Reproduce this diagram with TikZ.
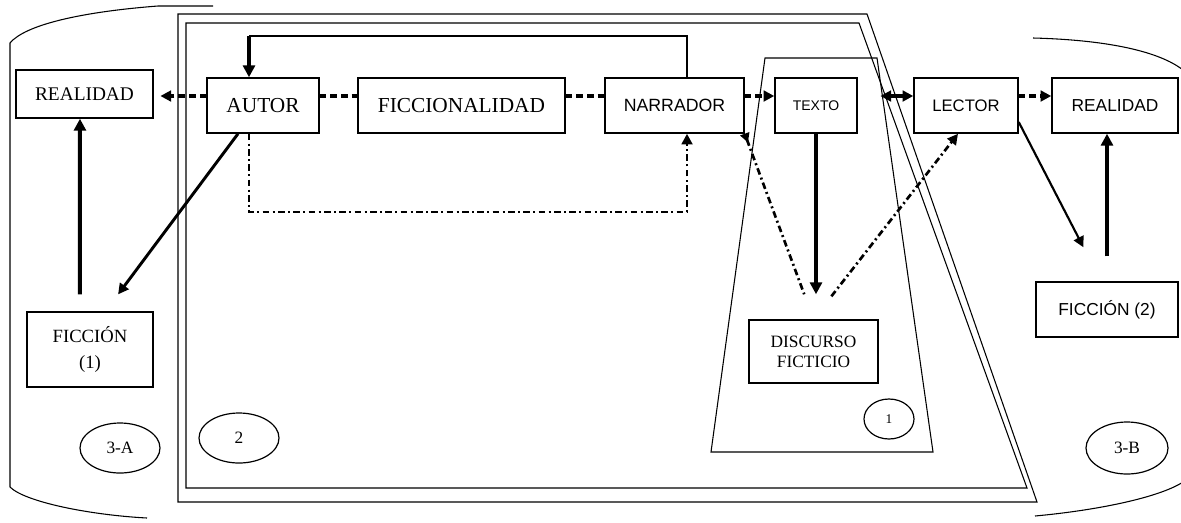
\documentclass[tikz,border=0pt]{standalone}
\usepackage{fontspec}
\setmainfont{Liberation Serif}
\newfontfamily\arialfont{Liberation Sans}
\usetikzlibrary{arrows.meta,shapes.geometric}

\begin{document}
\begin{tikzpicture}[x=0.75pt, y=-0.75pt,
    box/.style={draw, rectangle, line width=1.1pt, inner sep=0pt, align=center},
    oval/.style={draw, ellipse, line width=0.9pt, inner sep=0pt},
    frame/.style={line width=0.8pt},
    tip/.style={-{Triangle[length=8pt,width=8pt]}},
    dashlink/.style={line width=2.6pt, dash pattern=on 5pt off 3pt, tip},
    dotlink/.style={line width=2pt, dash pattern=on 5pt off 2.5pt on 1.5pt off 2.5pt},
    heavy/.style={line width=3pt, -{Triangle[length=9pt,width=9pt]}}]
    \useasboundingbox (0,0) rectangle (1181,522);

    \draw[frame] (213,6) -- (158,6) .. controls (80,12) and (25,25) .. (10,43) -- (10,487)
        .. controls (25,502) and (90,515) .. (147,518);
    \draw[frame] (1033,38) .. controls (1110,40) and (1160,52) .. (1183,70);
    \draw[frame] (1035,516) .. controls (1100,510) and (1160,497) .. (1183,482);
    \draw[frame] (178,14) -- (867,14) -- (1037,502) -- (178,502) -- cycle;
    \draw[frame] (186,23) -- (859,23) -- (1027,488) -- (186,488) -- cycle;
    \draw[frame] (765,58) -- (877,58) -- (933,452) -- (711,452) -- cycle;

    \node[box, font=\fontsize{14.5}{16}\selectfont, minimum width=102.75pt, minimum height=36pt] (realA) at (84.5,94) {REALIDAD};
    \node[box, font=\fontsize{16}{18}\selectfont, minimum width=84pt, minimum height=41.25pt] (autor) at (263,105.5) {AUTOR};
    \node[box, font=\fontsize{16}{18}\selectfont, minimum width=155.25pt, minimum height=41.25pt] (ficc) at (461.5,105.5) {FICCIONALIDAD};
    \node[box, font=\arialfont\fontsize{13.3}{15}\selectfont, minimum width=104.25pt, minimum height=41.25pt] (narr) at (674.5,105.5) {NARRADOR};
    \node[box, font=\arialfont\fontsize{10.5}{12}\selectfont, minimum width=61.5pt, minimum height=41.25pt] (texto) at (816,105.5) {TEXTO};
    \node[box, font=\arialfont\fontsize{12.5}{14}\selectfont, minimum width=78pt, minimum height=41.25pt] (lector) at (966,105.5) {LECTOR};
    \node[box, font=\arialfont\fontsize{13}{15}\selectfont, minimum width=94.5pt, minimum height=41.25pt] (realB) at (1115,105.5) {REALIDAD};
    \node[box, font=\fontsize{14}{19}\selectfont, minimum width=94.5pt, minimum height=56.25pt] (fic1) at (90,349.5) {FICCIÓN\\(1)};
    \node[box, font=\fontsize{13}{15}\selectfont, minimum width=96.75pt, minimum height=47.25pt] (disc) at (813.5,351.5) {DISCURSO\\FICTICIO};
    \node[box, font=\arialfont\fontsize{13}{15}\selectfont, minimum width=106.5pt, minimum height=41.25pt] (fic2) at (1107,309.5) {FICCIÓN (2)};

    \node[oval, font=\fontsize{13}{15}\selectfont, minimum width=60pt, minimum height=37.5pt] (ovA) at (120,448) {3-A};
    \node[oval, font=\fontsize{13}{15}\selectfont, minimum width=60pt, minimum height=37.5pt] (ov2) at (239,438) {2};
    \node[oval, font=\fontsize{10}{12}\selectfont, minimum width=37.5pt, minimum height=30pt] (ov1) at (889,419) {1};
    \node[oval, font=\fontsize{13}{15}\selectfont, minimum width=61.5pt, minimum height=39pt] (ovB) at (1127,448) {3-B};

    \coordinate (ln) at (0,96);
    \coordinate (topL) at (249,36);
    \coordinate (topR) at (687,36);
    \coordinate (botL) at (249,212);
    \coordinate (botR) at (687,212);

    \draw[dashlink, shorten >=5pt] (autor.west |- ln) -- (realA.east |- ln);
    \draw[dashlink, -] (autor.east |- ln) -- (ficc.west |- ln);
    \draw[dashlink, -] (ficc.east |- ln) -- (narr.west |- ln);
    \draw[dashlink] (narr.east |- ln) -- (texto.west |- ln);
    \draw[line width=2.4pt, {Triangle[length=8pt,width=8pt]}-{Triangle[length=8pt,width=8pt]}, shorten <=17pt] (texto.east |- ln) -- (lector.west |- ln);
    \draw[dashlink] (lector.east |- ln) -- (realB.west |- ln);

    \draw[frame] (narr.north -| topR) -- (topR) -- (topL);
    \draw[heavy, line width=2.6pt] (topL) -- (autor.north -| topL);
    \draw[dotlink, tip] (autor.south -| botL) |- (botR) -- (narr.south -| botR);

    \draw[line width=2.2pt, tip, shorten >=15.8pt] ([xshift=-18.75pt]autor.south) -- ([xshift=11.6pt]fic1.north);
    \draw[heavy, shorten <=12.75pt] ([xshift=-7.5pt]fic1.north) -- ([xshift=-3.4pt]realA.south);
    \draw[heavy, shorten >=18.75pt] (texto.south) -- (texto.south |- disc.north);
    \draw[dotlink, {Triangle[reversed,length=7pt,width=7pt]}-, shorten >=20pt] (narr.south east) -- (disc.north);
    \draw[dotlink, tip, shorten <=21.8pt] (disc.north) -- ([xshift=-6pt]lector.south);
    \draw[line width=1.6pt, tip, shorten >=28.7pt] ([yshift=-12.4pt]lector.east) -- ([xshift=-4.5pt]fic2.north);
    \draw[heavy, line width=2.4pt, shorten <=18.75pt] (fic2.north) -- (fic2.north |- realB.south);
\end{tikzpicture}
\end{document}
